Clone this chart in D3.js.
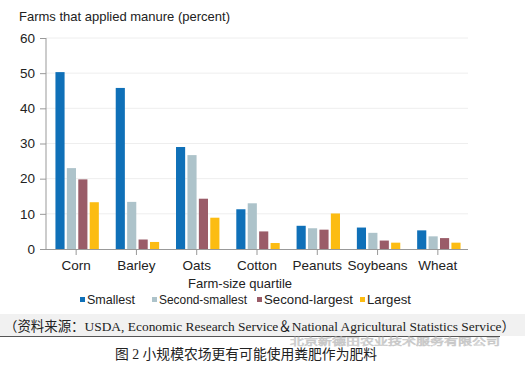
<!DOCTYPE html>
<html>
<head>
<meta charset="utf-8">
<script src="https://cdn.jsdelivr.net/npm/d3@7"></script>
<style>
  body { margin: 0; background: #fff; }
  svg { display: block; }
</style>
</head>
<body>
<div id="chart"></div>
<script>
"use strict"

const crops = ["Corn", "Barley", "Oats", "Cotton", "Peanuts", "Soybeans", "Wheat"];
const quartiles = ["Smallest", "Second-smallest", "Second-largest", "Largest"];
const smallest = [50.3, 45.8, 29.0, 11.3, 6.6, 6.1, 5.3];
const secondSmallest = [23.0, 13.4, 26.7, 13.0, 5.9, 4.6, 3.6];
const secondLargest = [19.8, 2.7, 14.3, 5.0, 5.5, 2.4, 3.1];
const largest = [13.3, 2.0, 8.9, 1.7, 10.1, 1.8, 1.8];
const yTicks = [0, 10, 20, 30, 40, 50, 60];
const colors = ["#0f70b8", "#adc3ca", "#9a5c68", "#fcbc12"];

const series = [smallest, secondSmallest, secondLargest, largest];

const width = 525, height = 366;
const margin = { top: 38, right: 57, bottom: 117, left: 46 };

const svg = d3.select("#chart")
    .append("svg")
    .attr("width", width)
    .attr("height", height);

const sans = "Helvetica, 'Liberation Sans', Arial, sans-serif";
const serif = "'Liberation Serif', 'Times New Roman', 'Noto Sans CJK SC', serif";

// scales
const x = d3.scaleBand()
    .domain(crops)
    .range([margin.left, width - margin.right]);
const xi = d3.scaleBand()
    .domain(d3.range(quartiles.length))
    .range([0, x.bandwidth() * 0.72])
    .paddingInner(0.2);
const y = d3.scaleLinear()
    .domain([0, 60])
    .range([height - margin.bottom, margin.top]);

// gridlines
svg.append("g")
    .selectAll("line")
    .data(yTicks.slice(1))
    .enter()
    .append("line")
    .attr("x1", margin.left)
    .attr("x2", width - margin.right)
    .attr("y1", d => y(d))
    .attr("y2", d => y(d))
    .attr("stroke", "#eeeeee")
    .attr("stroke-width", 1);

// bars
const groups = svg.append("g")
    .selectAll("g")
    .data(crops)
    .enter()
    .append("g")
    .attr("transform", d => "translate(" + (x(d) + x.bandwidth() * 0.14 + 1) + ",0)");

groups.selectAll("rect")
    .data((d, i) => series.map((s, k) => ({ k: k, v: s[i] })))
    .enter()
    .append("rect")
    .attr("x", d => xi(d.k))
    .attr("width", xi.bandwidth())
    .attr("y", d => y(d.v))
    .attr("height", d => y(0) - y(d.v))
    .attr("fill", d => colors[d.k]);

// y axis
const yAxis = svg.append("g")
    .attr("transform", "translate(" + margin.left + ",0)")
    .call(d3.axisLeft(y).tickValues(yTicks).tickSize(6).tickPadding(5));
yAxis.select(".domain").attr("stroke", "#999").attr("d", "M0," + y(60) + "V" + y(0));
yAxis.selectAll(".tick line").attr("stroke", "#999");
yAxis.selectAll("text")
    .style("font-family", sans)
    .style("font-size", "13.5px")
    .attr("fill", "#222");

// x axis
const xAxis = svg.append("g")
    .attr("transform", "translate(0," + y(0) + ")")
    .call(d3.axisBottom(x).tickSize(6).tickPadding(5));
xAxis.select(".domain").attr("stroke", "#999").attr("d", "M" + margin.left + ",0.5H" + (width - margin.right));
xAxis.selectAll(".tick line").attr("stroke", "#999");
xAxis.selectAll("text")
    .style("font-family", sans)
    .style("font-size", "13.5px")
    .attr("fill", "#222");

// titles
svg.append("text")
    .attr("x", 19)
    .attr("y", 21)
    .text("Farms that applied manure (percent)")
    .style("font-family", sans)
    .style("font-size", "13px")
    .attr("fill", "#222");

svg.append("text")
    .attr("x", 240)
    .attr("y", 288)
    .attr("text-anchor", "middle")
    .text("Farm-size quartile")
    .style("font-family", sans)
    .style("font-size", "13px")
    .attr("fill", "#222");

// legend
const legendX = [80, 152, 257, 360];
const legendW = [48, 88, 89, 44];
const legend = svg.append("g")
    .selectAll("g")
    .data(quartiles)
    .enter()
    .append("g")
    .attr("transform", (d, i) => "translate(" + legendX[i] + ",304)");
legend.append("rect")
    .attr("x", 0)
    .attr("y", -7)
    .attr("width", 5)
    .attr("height", 5)
    .attr("fill", (d, i) => colors[i]);
legend.append("text")
    .attr("x", 7)
    .attr("y", 0)
    .attr("textLength", (d, i) => legendW[i])
    .attr("lengthAdjust", "spacingAndGlyphs")
    .text(d => d)
    .style("font-family", sans)
    .style("font-size", "13px")
    .attr("fill", "#222");

// source band
svg.append("rect")
    .attr("x", 0)
    .attr("y", 314)
    .attr("width", width)
    .attr("height", 22)
    .attr("fill", "#f1f1f1");
svg.append("line")
    .attr("x1", 0)
    .attr("x2", 500)
    .attr("y1", 336.5)
    .attr("y2", 336.5)
    .attr("stroke", "#555")
    .attr("stroke-width", 1);
svg.append("text")
    .attr("x", 4)
    .attr("y", 331)
    .attr("textLength", 511)
    .attr("lengthAdjust", "spacingAndGlyphs")
    .text("（资料来源：USDA, Economic Research Service＆National Agricultural Statistics Service）")
    .style("font-family", serif)
    .style("font-size", "13.5px")
    .attr("fill", "#222");

// watermark
svg.append("text")
    .attr("x", 290)
    .attr("y", 345)
    .attr("textLength", 210)
    .attr("lengthAdjust", "spacingAndGlyphs")
    .text("北京新德田农业技术服务有限公司")
    .style("font-family", "'Noto Sans CJK SC', sans-serif")
    .style("font-size", "9.5px")
    .attr("fill", "none")
    .attr("stroke", "#c8c8c8")
    .attr("stroke-width", 0.6);

// caption
svg.append("text")
    .attr("x", 115)
    .attr("y", 359)
    .attr("textLength", 262)
    .attr("lengthAdjust", "spacingAndGlyphs")
    .text("图 2  小规模农场更有可能使用粪肥作为肥料")
    .style("font-family", serif)
    .style("font-size", "14px")
    .attr("fill", "#222");
</script>
</body>
</html>
